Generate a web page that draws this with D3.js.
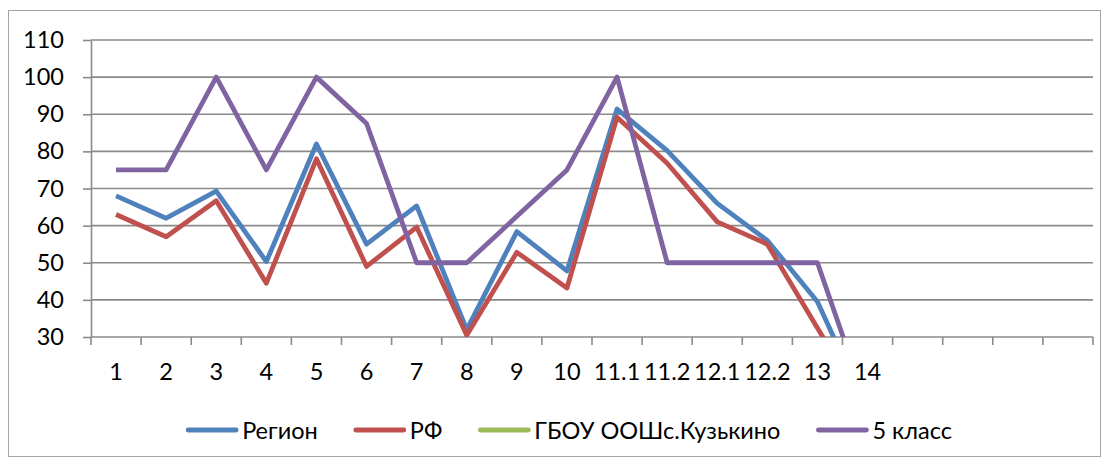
<!DOCTYPE html>
<html>
<head>
<meta charset="utf-8">
<script src="https://cdn.jsdelivr.net/npm/d3@7"></script>
<style>
  html, body { margin: 0; padding: 0; background: #fff; }
  svg { display: block; font-family: Lato, "Open Sans", sans-serif; }
</style>
</head>
<body>
<svg id="chart" width="1107" height="463"></svg>
<script>
// ---- data ----
const categories = ["1","2","3","4","5","6","7","8","9","10","11.1","11.2","12.1","12.2","13","14","","","",""];
const yTicks = [30, 40, 50, 60, 70, 80, 90, 100, 110];
const region = [68, 62, 69.3, 50.3, 82, 55, 65.3, 32, 58.4, 47.8, 91.4, 80.2, 66, 56, 39.5, 10, null, null, null, null];
const rf     = [63, 57, 66.7, 44.5, 78, 49, 59.6, 30.5, 52.8, 43.2, 89.2, 76.8, 61, 55, 32.4, 10, null, null, null, null];
const school = [null, null, null, null, null, null, null, null, null, null, null, null, null, null, null, null, null, null, null, null];
const class5 = [75, 75, 100, 75, 100, 87.5, 50, 50, 62.5, 75, 100, 50, 50, 50, 50, 11, null, null, null, null];
const seriesNames = ["Регион", "РФ", "ГБОУ ООШс.Кузькино", "5 класс"];
const seriesColors = ["#4F81BD", "#C0504D", "#9BBB59", "#8064A2"];
const seriesValues = [region, rf, school, class5];

// ---- layout ----
const svg = d3.select("#chart");
const plot = { left: 91, right: 1093, top: 40, bottom: 337 };
const idx = categories.map((c, i) => i);
const x = d3.scaleBand().domain(idx).range([plot.left, plot.right]).padding(0);
const y = d3.scaleLinear().domain([30, 110]).range([plot.bottom, plot.top]);
const gridColor = "#8a8a8a";
const font = 23.5;

// outer border
svg.append("rect").attr("x", 8.5).attr("y", 10.5).attr("width", 1092).attr("height", 446)
  .attr("fill", "#fff").attr("stroke", "#a6a6a6").attr("stroke-width", 1);

// gridlines
svg.append("g").selectAll("line").data(yTicks.slice(1)).join("line")
  .attr("x1", plot.left).attr("x2", plot.right)
  .attr("y1", d => y(d)).attr("y2", d => y(d))
  .attr("stroke", gridColor).attr("stroke-width", 1.6);

// y axis
const yAxis = svg.append("g").attr("transform", `translate(${plot.left},0)`)
  .call(d3.axisLeft(y).tickValues(yTicks).tickSizeInner(8).tickSizeOuter(0).tickPadding(19));
yAxis.select(".domain").attr("stroke", gridColor).attr("stroke-width", 1.6);
yAxis.selectAll(".tick line").attr("stroke", gridColor).attr("stroke-width", 1.6);
yAxis.selectAll("text").attr("font-size", font).attr("fill", "#000")
  .attr("font-family", "Lato, 'Open Sans', sans-serif");

// x axis line
svg.append("line").attr("x1", plot.left).attr("x2", plot.right)
  .attr("y1", y(30)).attr("y2", y(30)).attr("stroke", gridColor).attr("stroke-width", 1.6);
// x ticks at category boundaries
const bounds = idx.map(i => x(i)).concat([x(idx[idx.length - 1]) + x.bandwidth()]);
svg.append("g").selectAll("line").data(bounds).join("line")
  .attr("x1", d => d).attr("x2", d => d)
  .attr("y1", y(30)).attr("y2", y(30) + 8)
  .attr("stroke", gridColor).attr("stroke-width", 1.6);
// x labels
svg.append("g").selectAll("text").data(idx).join("text")
  .attr("x", i => x(i) + x.bandwidth() / 2)
  .attr("y", 380)
  .attr("text-anchor", "middle")
  .attr("font-size", font)
  .text(i => categories[i]);

// clip
svg.append("clipPath").attr("id", "plotclip").append("rect")
  .attr("x", plot.left).attr("y", plot.top - 10)
  .attr("width", plot.right - plot.left).attr("height", plot.bottom - plot.top + 10);

const line = d3.line()
  .defined(d => d.v !== null)
  .x(d => x(d.i) + x.bandwidth() / 2)
  .y(d => y(d.v));

const lines = svg.append("g").attr("clip-path", "url(#plotclip)");
seriesValues.forEach((vals, s) => {
  const pts = vals.map((v, i) => ({ i, v }));
  if (pts.every(p => p.v === null)) return;
  lines.append("path").datum(pts)
    .attr("d", line)
    .attr("fill", "none")
    .attr("stroke", seriesColors[s])
    .attr("stroke-width", 4.8)
    .attr("stroke-linejoin", "round");
});

// legend
const legend = svg.append("g");
const sample = 50, gapText = 6, gapItem = 36, ly = 430;
let cx = 0;
seriesNames.forEach((name, s) => {
  const g = legend.append("g").attr("transform", `translate(${cx},0)`);
  g.append("line").attr("x1", 2).attr("x2", sample).attr("y1", ly).attr("y2", ly)
    .attr("stroke", seriesColors[s]).attr("stroke-width", 4.8).attr("stroke-linecap", "round");
  const t = g.append("text").attr("x", sample + gapText).attr("y", ly + 8.5)
    .attr("font-size", font).text(name);
  const w = t.node().getComputedTextLength();
  cx += sample + gapText + w + gapItem;
});
const totalW = cx - gapItem;
legend.attr("transform", `translate(${569 - totalW / 2},0)`);
</script>
</body>
</html>
